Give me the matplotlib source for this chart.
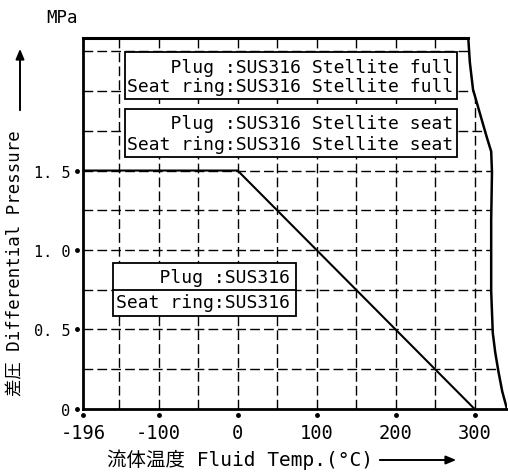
import numpy as np
import matplotlib
matplotlib.use('Agg')
import matplotlib.pyplot as plt
from matplotlib.patches import Rectangle, FancyArrowPatch
from matplotlib.transforms import offset_copy

# curve for Plug/Seat ring SUS316 (MPa vs degC)
temp = [-196, 0, 300]
dp = [1.5, 1.5, 0.0]

# right hand limit (Stellite)
limit_temp = [292, 294, 298, 309, 316, 321, 322, 321, 321, 321, 322, 323, 326, 330, 335, 341]
limit_dp = [2.333, 2.18, 2.01, 1.82, 1.70, 1.62, 1.49, 1.19, 0.99, 0.74, 0.61, 0.48, 0.36, 0.24, 0.11, 0.0]

xticks = [-196, -100, 0, 100, 200, 300]
xtick_labels = ['-196', '-100', '0', '100', '200', '300']
yticks = [0, 0.5, 1.0, 1.5]
ytick_labels = ['0', '0. 5', '1. 0', '1. 5']

box1 = ['    Plug :SUS316 Stellite full', 'Seat ring:SUS316 Stellite full']
box2 = ['    Plug :SUS316 Stellite seat', 'Seat ring:SUS316 Stellite seat']
box3 = ['    Plug :SUS316', 'Seat ring:SUS316']

mono = ['DejaVu Sans Mono', 'Noto Sans CJK JP']
plt.rcParams['font.family'] = mono

fig = plt.figure(figsize=(5.08, 4.77), dpi=100)
ax = fig.add_axes([0.163, 0.1405, 0.835, 0.7775])
ax.set_xlim(-196, 341)
ax.set_ylim(0, 2.333)

# dashed grid
for gx in np.arange(-150, 301, 50):
    ax.axvline(gx, color='black', lw=1.0, ls=(0, (7, 3)), zorder=1)
for gy in np.arange(0.25, 2.3, 0.25):
    ax.axhline(gy, color='black', lw=1.0, ls=(0, (7, 3)), zorder=1)

# blank out everything right of the limit curve
ax.fill_betweenx(limit_dp, limit_temp, 360, color='white', zorder=2)
ax.plot(limit_temp, limit_dp, color='black', lw=1.8, zorder=5, solid_joinstyle='round')
ax.plot([-196, limit_temp[0]], [2.333, 2.333], color='black', lw=2.2, zorder=5, clip_on=False)

ax.plot(temp, dp, color='black', lw=1.5, zorder=4)

for s in ['top', 'right']:
    ax.spines[s].set_visible(False)
ax.spines['left'].set_linewidth(2.0)
ax.spines['bottom'].set_linewidth(2.0)
ax.spines['left'].set_zorder(6)
ax.spines['bottom'].set_zorder(6)

ax.set_xticks(xticks)
ax.set_xticklabels(xtick_labels, fontsize=13.5)
ax.set_yticks(yticks)
ax.set_yticklabels(ytick_labels, fontsize=11)
ax.tick_params(axis='both', length=0)
ax.tick_params(axis='x', pad=10)
ax.tick_params(axis='y', pad=9)

# small dots in place of ticks
tx = offset_copy(ax.transData, fig=fig, y=-6, units='dots')
ax.plot(xticks, np.zeros(len(xticks)), 'o', color='black', ms=2.5, clip_on=False, transform=tx)
ty = offset_copy(ax.transData, fig=fig, x=-6, units='dots')
ax.plot(np.full(len(yticks), -196), yticks, 'o', color='black', ms=2.5, clip_on=False, transform=ty)

# material boxes
def box(x0, x1, y0, y1, lines, ys, xr, divider=None):
    ax.add_patch(Rectangle((x0, y0), x1 - x0, y1 - y0, facecolor='white',
                           edgecolor='black', lw=1.3, zorder=3))
    if divider is not None:
        ax.plot([x0, x1], [divider, divider], color='black', lw=1.3, zorder=3)
    for t, yy in zip(lines, ys):
        ax.text(xr, yy, t, ha='right', va='center', fontsize=13, zorder=4)

box(-142.7, 277.8, 1.95, 2.245, box1, [2.15, 2.03], 273)
box(-142.7, 277.8, 1.585, 1.887, box2, [1.80, 1.665], 273)
box(-157.8, 74.5, 0.585, 0.918, box3, [0.828, 0.67], 66, divider=0.748)

# axis titles with arrows
fig.text(62 / 508, 1 - 18 / 477, 'MPa', ha='center', va='center', fontsize=12.5)
fig.text(15 / 508, 1 - 263 / 477, '差圧 Differential Pressure', rotation=90,
         ha='center', va='center', fontsize=12.5)
fig.text(240 / 508, 1 - 460 / 477, '流体温度 Fluid Temp.(°C)', ha='center', va='center',
         fontsize=14)
fig.patches.append(FancyArrowPatch(
    (20 / 508, 1 - 114 / 477), (20 / 508, 1 - 47 / 477), transform=fig.transFigure,
    arrowstyle='-|>,head_length=6,head_width=2.5', color='black', lw=1.4))
fig.patches.append(FancyArrowPatch(
    (377 / 508, 1 - 461 / 477), (459 / 508, 1 - 461 / 477), transform=fig.transFigure,
    arrowstyle='-|>,head_length=6,head_width=2.5', color='black', lw=1.4))

fig.savefig('out.png', dpi=100, facecolor='white')
